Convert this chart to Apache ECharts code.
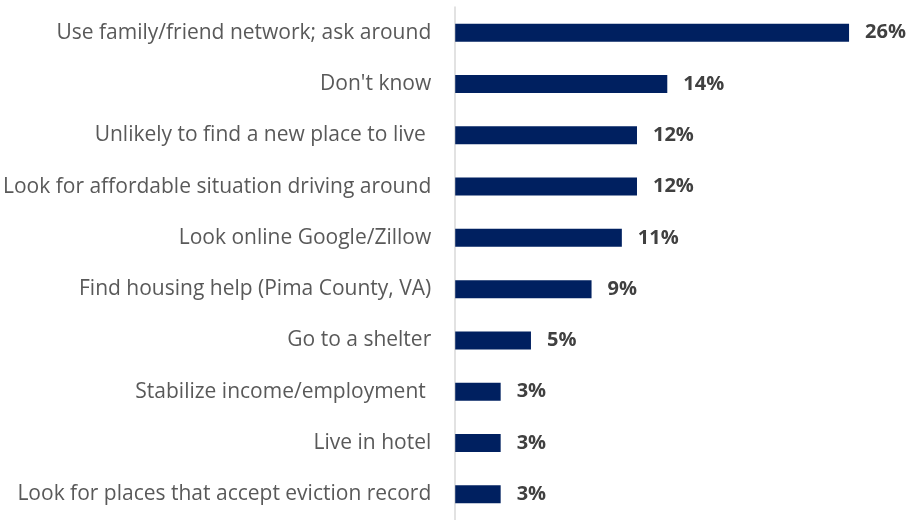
<!DOCTYPE html>
<html>
<head>
<meta charset="utf-8">
<script src="https://cdn.jsdelivr.net/npm/echarts@6/dist/echarts.min.js"></script>
<style>
  html, body { margin: 0; padding: 0; background: #ffffff; }
  #chart { width: 907px; height: 520px; }
</style>
</head>
<body>
<div id="chart"></div>
<script>
// Responses, listed top to bottom
const categories = [
  "Use family/friend network; ask around",
  "Don't know",
  "Unlikely to find a new place to live ",
  "Look for affordable situation driving around",
  "Look online Google/Zillow",
  "Find housing help (Pima County, VA)",
  "Go to a shelter",
  "Stabilize income/employment ",
  "Live in hotel",
  "Look for places that accept eviction record"
];
// Share of respondents (%)
const shares = [26, 14, 12, 12, 11, 9, 5, 3, 3, 3];

const chart = echarts.init(document.getElementById('chart'), null, { renderer: 'canvas' });

chart.setOption({
  animation: false,
  backgroundColor: '#ffffff',
  grid: { left: 454, top: 7, width: 440.5, height: 516, containLabel: false },
  xAxis: {
    type: 'value',
    min: 0,
    max: 29,
    show: false
  },
  yAxis: {
    type: 'category',
    data: categories.slice().reverse(),
    axisLine: { show: true, lineStyle: { color: '#d9d9d9', width: 1.5 } },
    axisTick: { show: false },
    axisLabel: {
      margin: 24,
      color: '#595959',
      fontFamily: 'Open Sans',
      fontSize: 21
    }
  },
  series: [{
    type: 'bar',
    data: shares.slice().reverse(),
    barWidth: 18,
    itemStyle: { color: '#002060' },
    label: {
      show: true,
      position: 'right',
      distance: 16,
      formatter: p => p.value + '%',
      color: '#404040',
      fontFamily: 'Open Sans',
      fontWeight: 'bold',
      fontSize: 20
    }
  }]
});
</script>
</body>
</html>
